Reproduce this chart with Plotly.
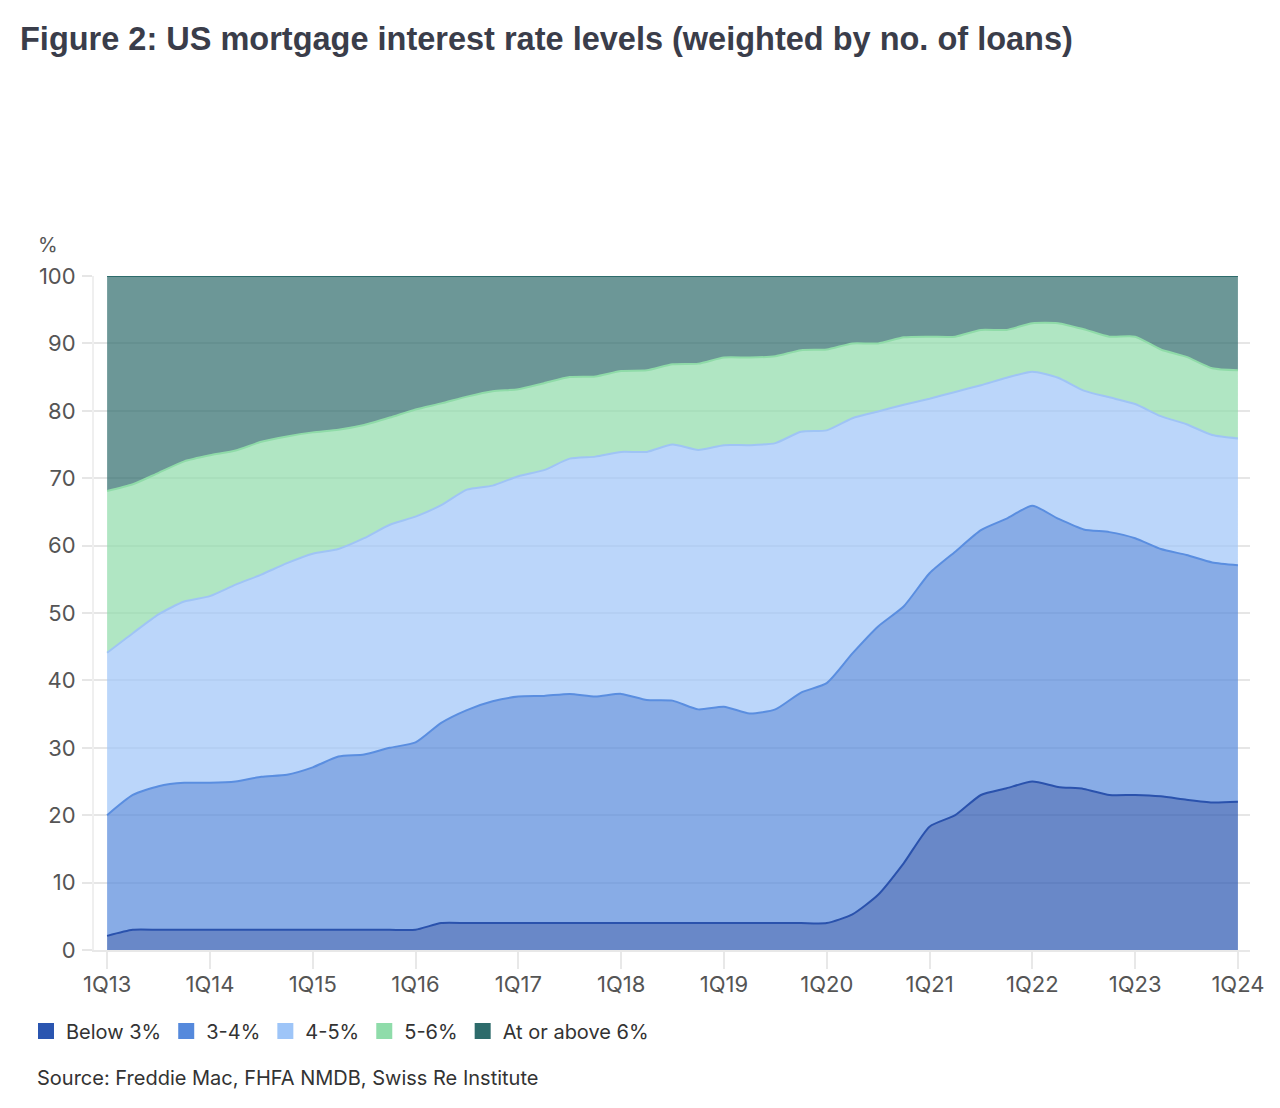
import plotly.graph_objects as go

quarters = [
    "1Q13", "2Q13", "3Q13", "4Q13", "1Q14", "2Q14", "3Q14", "4Q14",
    "1Q15", "2Q15", "3Q15", "4Q15", "1Q16", "2Q16", "3Q16", "4Q16",
    "1Q17", "2Q17", "3Q17", "4Q17", "1Q18", "2Q18", "3Q18", "4Q18",
    "1Q19", "2Q19", "3Q19", "4Q19", "1Q20", "2Q20", "3Q20", "4Q20",
    "1Q21", "2Q21", "3Q21", "4Q21", "1Q22", "2Q22", "3Q22", "4Q22",
    "1Q23", "2Q23", "3Q23", "4Q23", "1Q24",
]
tick_labels = ["1Q13", "1Q14", "1Q15", "1Q16", "1Q17", "1Q18",
               "1Q19", "1Q20", "1Q21", "1Q22", "1Q23", "1Q24"]

below_3 = [2.1, 3, 3, 3, 3, 3, 3, 3, 3, 3, 3, 3, 3, 4, 4, 4, 4, 4, 4, 4,
           4, 4, 4, 4, 4, 4, 4, 4, 4, 5.3, 8.2, 12.9, 18.3, 20, 23, 24,
           25, 24.2, 23.9, 23, 23, 22.8, 22.3, 21.9, 22]
pct_3_4 = [17.9, 20, 21.3, 21.8, 21.8, 22, 22.7, 23, 24.1, 25.7, 26, 27,
           27.8, 29.7, 31.6, 32.9, 33.6, 33.7, 34, 33.6, 34, 33.1, 33, 31.7,
           32.1, 31.1, 31.7, 34.2, 35.6, 38.7, 39.8, 38.1, 37.6, 39.1, 39.3, 40,
           40.9, 39.8, 38.5, 39, 38.1, 36.7, 36.3, 35.6, 35.1]
pct_4_5 = [24.1, 24, 25.5, 26.9, 27.7, 29.2, 30, 31.4, 31.7, 30.8, 32.1, 33.1,
           33.5, 32.3, 32.7, 32, 32.7, 33.5, 34.9, 35.6, 35.9, 36.8, 38, 38.5,
           38.8, 39.8, 39.5, 38.7, 37.5, 34.9, 31.9, 29.9, 25.9, 23.7, 21.5, 20.9,
           19.9, 20.9, 20.6, 20, 19.9, 19.7, 19.4, 18.9, 18.8]
pct_5_6 = [24, 22.1, 21, 20.8, 20.9, 19.9, 19.7, 18.8, 18, 17.7, 16.8, 15.9,
           15.9, 15.1, 13.8, 14, 12.9, 12.9, 12.1, 11.9, 12, 12.1, 11.9, 12.8,
           13, 13, 12.9, 12.1, 12, 11.1, 10.1, 10, 9.2, 8.2, 8.2, 7.1,
           7.2, 8.1, 9.1, 9, 10, 9.9, 10, 9.9, 10.1]
pct_6_plus = [31.9, 30.9, 29.2, 27.5, 26.6, 25.9, 24.6, 23.8, 23.2, 22.8, 22.1, 21,
              19.8, 18.9, 17.9, 17.1, 16.8, 15.9, 15, 14.9, 14.1, 14, 13.1, 13,
              12.1, 12.1, 11.9, 11, 10.9, 10, 10, 9.1, 9, 9, 8, 8,
              7, 7, 7.9, 9, 9, 10.9, 12, 13.7, 14]

series_names = ["Below 3%", "3-4%", "4-5%", "5-6%", "At or above 6%"]
series_values = [below_3, pct_3_4, pct_4_5, pct_5_6, pct_6_plus]
base_colors = [(42, 85, 176), (85, 137, 220), (158, 197, 248), (143, 220, 170), (45, 107, 107)]
line_colors = ["#2a52ad", "#5a8ee0", "#9fc4f5", "#8fdba8", "#2d6b6b"]

fig = go.Figure()
for name, vals, bc, lc in zip(series_names, series_values, base_colors, line_colors):
    fig.add_trace(go.Scatter(
        x=quarters, y=vals, name=name, mode="lines", stackgroup="one",
        line=dict(color=lc, width=2, shape="spline", smoothing=0.6),
        fillcolor="rgba(%d,%d,%d,0.7)" % bc,
        showlegend=False, hoverinfo="x+y+name",
    ))
for name, bc in zip(series_names, base_colors):
    fig.add_trace(go.Scatter(
        x=[None], y=[None], name=name, mode="markers",
        marker=dict(symbol="square", size=20, color="rgb(%d,%d,%d)" % bc),
        showlegend=True,
    ))

# page body adds 8px offset; target coordinates below are page coordinates
OFF = 8
W, H = 1280, 1108
L, T = 94 - OFF, 276 - OFF
R = W - (1250 - OFF)
B = H - (950 - OFF)
pw, ph = W - L - R, H - T - B

def px(x):
    return (x - OFF - L) / pw

def py(y):
    return (H - B - (y - OFF)) / ph

grid_c = "#e6e6e6"
body_font = "Inter, Roboto, Liberation Sans, sans-serif"
fig.update_layout(
    width=W, height=H,
    margin=dict(l=L, r=R, t=T, b=B, autoexpand=False),
    paper_bgcolor="white", plot_bgcolor="white",
    font=dict(family=body_font, color="#444", size=20),
    showlegend=True,
    legend=dict(orientation="h", traceorder="normal",
                x=px(26), xanchor="left", y=py(1031), yanchor="middle",
                font=dict(size=20, color="#333"), itemwidth=30, tracegroupgap=0,
                bgcolor="rgba(0,0,0,0)"),
    xaxis=dict(
        type="category", range=[-0.51, 44.47],
        tickmode="array", tickvals=tick_labels, ticktext=tick_labels,
        showgrid=False, ticks="outside", ticklen=17, tickwidth=2, tickcolor="#e8e8e8",
        tickfont=dict(size=22, color="#555"), ticklabelstandoff=-3,
        showline=True, linecolor="#e8e8e8", linewidth=2,
        zeroline=False, fixedrange=True,
    ),
    yaxis=dict(
        range=[0, 100], dtick=10,
        showgrid=True, gridcolor=grid_c, gridwidth=2,
        ticks="outside", ticklen=10, tickwidth=2, tickcolor=grid_c,
        tickfont=dict(size=22, color="#555"), ticklabelstandoff=2,
        showline=True, linecolor="#efefef", linewidth=2,
        zeroline=False, fixedrange=True,
    ),
    annotations=[
        dict(text="<b>Figure 2: US mortgage interest rate levels (weighted by no. of loans)</b>",
             xref="paper", yref="paper", x=px(18), y=py(39), xanchor="left", yanchor="middle",
             showarrow=False, font=dict(family="Liberation Sans, Arial, sans-serif", size=32.5, color="#3a3d4a")),
        dict(text="%", xref="paper", yref="paper", x=px(36), y=py(245), xanchor="left", yanchor="middle",
             showarrow=False, font=dict(size=20, color="#555")),
        dict(text="Source: Freddie Mac, FHFA NMDB, Swiss Re Institute",
             xref="paper", yref="paper", x=px(35), y=py(1078), xanchor="left", yanchor="middle",
             showarrow=False, font=dict(size=20, color="#333")),
    ],
)

fig.write_html("out.html")
